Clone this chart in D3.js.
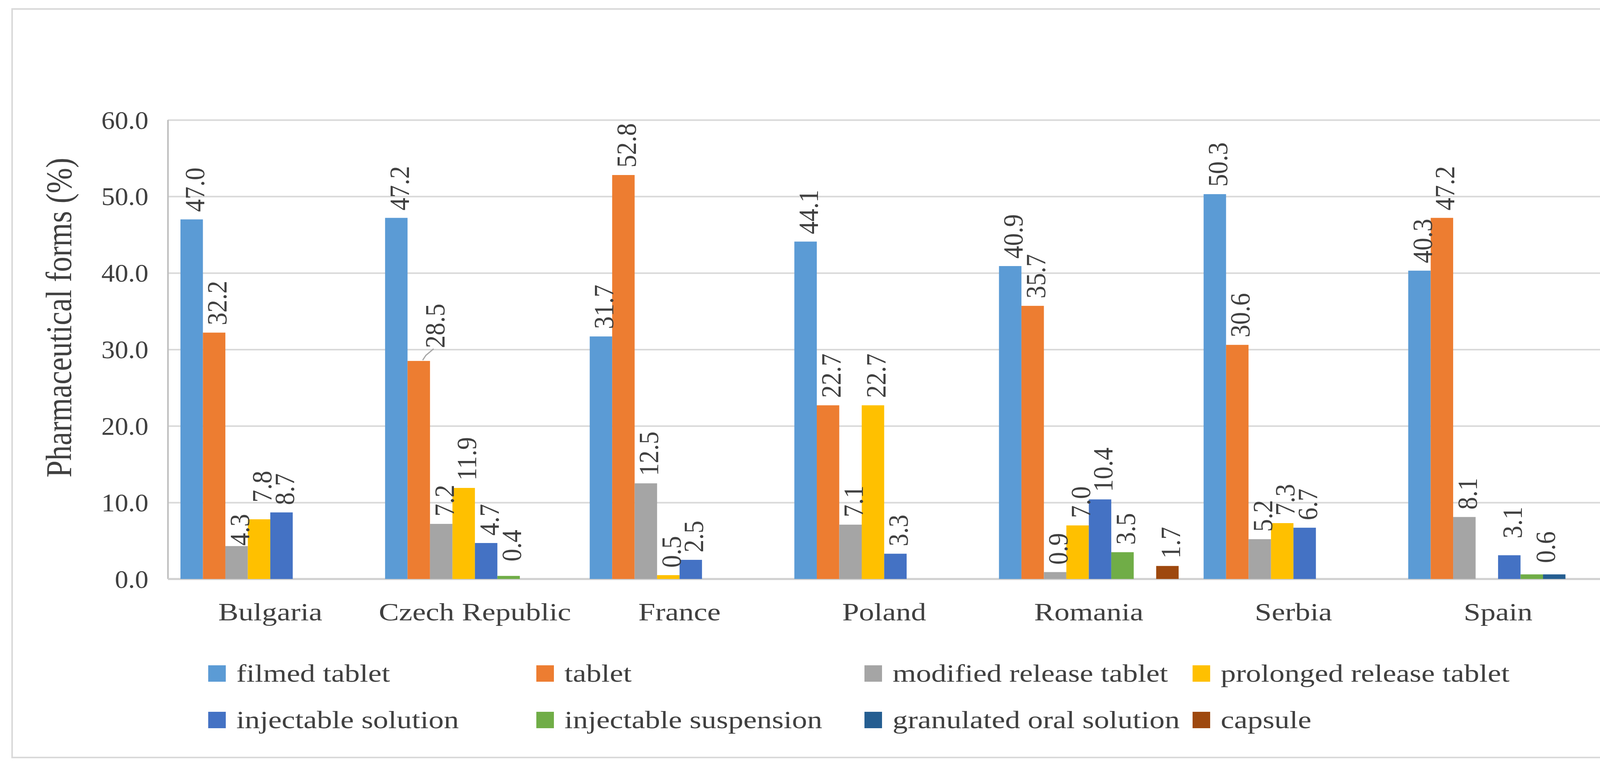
<!DOCTYPE html>
<html>
<head>
<meta charset="utf-8">
<script src="https://cdn.jsdelivr.net/npm/d3@7"></script>
<style>
  html, body { margin: 0; padding: 0; background: #fff; overflow: hidden; }
  svg { display: block; }
  text { font-family: "Liberation Serif", "Times New Roman", serif; fill: #404040; }
</style>
</head>
<body>
<script>
// chart data
const countries = ["Bulgaria", "Czech Republic", "France", "Poland", "Romania", "Serbia", "Spain"];
const seriesNames = [
  "filmed tablet", "tablet", "modified release tablet", "prolonged release tablet",
  "injectable solution", "injectable suspension", "granulated oral solution", "capsule"
];
const filmedTablet = [47.0, 47.2, 31.7, 44.1, 40.9, 50.3, 40.3];
const tablet = [32.2, 28.5, 52.8, 22.7, 35.7, 30.6, 47.2];
const modifiedRelease = [4.3, 7.2, 12.5, 7.1, 0.9, 5.2, 8.1];
const prolongedRelease = [7.8, 11.9, 0.5, 22.7, 7.0, 7.3, null];
const injectableSolution = [8.7, 4.7, 2.5, 3.3, 10.4, 6.7, 3.1];
const injectableSuspension = [null, 0.4, null, null, 3.5, null, 0.6];
const granulatedOral = [null, null, null, null, null, null, 0.6];
const capsule = [null, null, null, null, 1.7, null, null];
const yTicks = [0, 10, 20, 30, 40, 50, 60];

const seriesValues = [filmedTablet, tablet, modifiedRelease, prolongedRelease,
  injectableSolution, injectableSuspension, granulatedOral, capsule];
const colors = ["#5B9BD5", "#ED7D31", "#A5A5A5", "#FFC000", "#4472C4", "#70AD47", "#255E91", "#9E480E"];

// hand-moved labels in the original figure
const labelNudge = {
  "Bulgaria|2": { dx: 0, dy: 18 },
  "Bulgaria|3": { dx: 0, dy: -24 },
  "Czech Republic|1": { dx: 34, dy: -14, leader: true },
  "Czech Republic|5": { dx: 0, dy: -18 },
  "Spain|4": { dx: 0, dy: -24 },
  "Spain|5": { hide: true },
  "Spain|6": { dx: -30, dy: -10 }
};

const W = 4211, H = 1971;
const plot = { left: 430, right: 4097, top: 307, bottom: 1482 };

const svg = d3.select("body").append("svg").attr("width", W).attr("height", H);

svg.append("rect")
  .attr("x", 31).attr("y", 23).attr("width", 4155).attr("height", 1916)
  .attr("fill", "#fff").attr("stroke", "#d9d9d9").attr("stroke-width", 4);

const y = d3.scaleLinear().domain([0, 60]).range([plot.bottom, plot.top]);
const x0 = d3.scaleBand().domain(countries).range([plot.left, plot.right])
  .paddingInner(0.122).paddingOuter(0.061);
const x1 = d3.scaleBand().domain(d3.range(seriesNames.length)).range([0, x0.bandwidth()]);

// gridlines + tick labels
const yAxis = svg.append("g")
  .attr("transform", `translate(${plot.left},0)`)
  .call(d3.axisLeft(y).tickValues(yTicks).tickFormat(d3.format(".1f"))
    .tickSize(-(plot.right - plot.left)).tickPadding(0));
yAxis.select(".domain").remove();
yAxis.selectAll(".tick line").attr("stroke", "#d9d9d9").attr("stroke-width", 4);
yAxis.selectAll(".tick text")
  .attr("x", null).attr("dy", null)
  .attr("transform", "translate(-50,22) scale(1.06,1)")
  .style("font-size", "65px").attr("fill", "#404040");

// axis lines
svg.append("line")
  .attr("x1", plot.left).attr("x2", plot.left).attr("y1", plot.top).attr("y2", plot.bottom)
  .attr("stroke", "#bfbfbf").attr("stroke-width", 4);
svg.append("line")
  .attr("x1", plot.left).attr("x2", plot.right).attr("y1", y(0)).attr("y2", y(0))
  .attr("stroke", "#d0d0d0").attr("stroke-width", 5);

// bars
const barData = [];
countries.forEach((c, ci) => {
  seriesValues.forEach((vals, si) => {
    if (vals[ci] != null) barData.push({ country: c, si, value: vals[ci] });
  });
});

svg.append("g").selectAll("rect").data(barData).join("rect")
  .attr("x", (d) => x0(d.country) + x1(d.si))
  .attr("width", x1.bandwidth())
  .attr("y", (d) => y(d.value))
  .attr("height", (d) => y(0) - y(d.value))
  .attr("fill", (d) => colors[d.si]);

// value labels (rotated)
const labels = svg.append("g");
barData.forEach((d) => {
  const n = labelNudge[`${d.country}|${d.si}`] || {};
  if (n.hide) return;
  const cx = x0(d.country) + x1(d.si) + x1.bandwidth() / 2 + (n.dx || 0);
  const top = y(d.value) - 19 + (n.dy || 0);
  labels.append("text")
    .attr("transform", `translate(${cx + 32},${top}) scale(1.12,1) rotate(-90)`)
    .style("font-size", "65px")
    .text(d3.format(".1f")(d.value));
  if (n.leader) {
    const bx = x0(d.country) + x1(d.si) + x1.bandwidth() / 2;
    const by = y(d.value);
    labels.append("path")
      .attr("d", `M${bx + 10},${by - 2} L${bx + 18},${by - 14} L${cx + 4},${top + 2}`)
      .attr("fill", "none").attr("stroke", "#a6a6a6").attr("stroke-width", 3);
  }
});

// category labels
svg.append("g").selectAll("text").data(countries).join("text")
  .attr("transform", (d) => `translate(${x0(d) + x0.bandwidth() / 2},1588) scale(1.21,1)`)
  .attr("text-anchor", "middle")
  .style("font-size", "64px")
  .text((d) => d);

// y title
svg.append("text")
  .attr("transform", "translate(182,813) scale(1.2,1) rotate(-90)")
  .attr("text-anchor", "middle")
  .style("font-size", "78px")
  .text("Pharmaceutical forms (%)");

// legend: 4 columns, 2 rows
const legend = svg.append("g").selectAll("g").data(seriesNames).join("g")
  .attr("transform", (d, i) => `translate(${533 + (i % 4) * 840},${1703 + Math.floor(i / 4) * 119})`);
legend.append("rect")
  .attr("width", 45).attr("height", 42)
  .attr("fill", (d, i) => colors[i]);
legend.append("text")
  .attr("transform", "translate(72,42) scale(1.21,1)")
  .style("font-size", "64px")
  .text((d) => d);
</script>
</body>
</html>
